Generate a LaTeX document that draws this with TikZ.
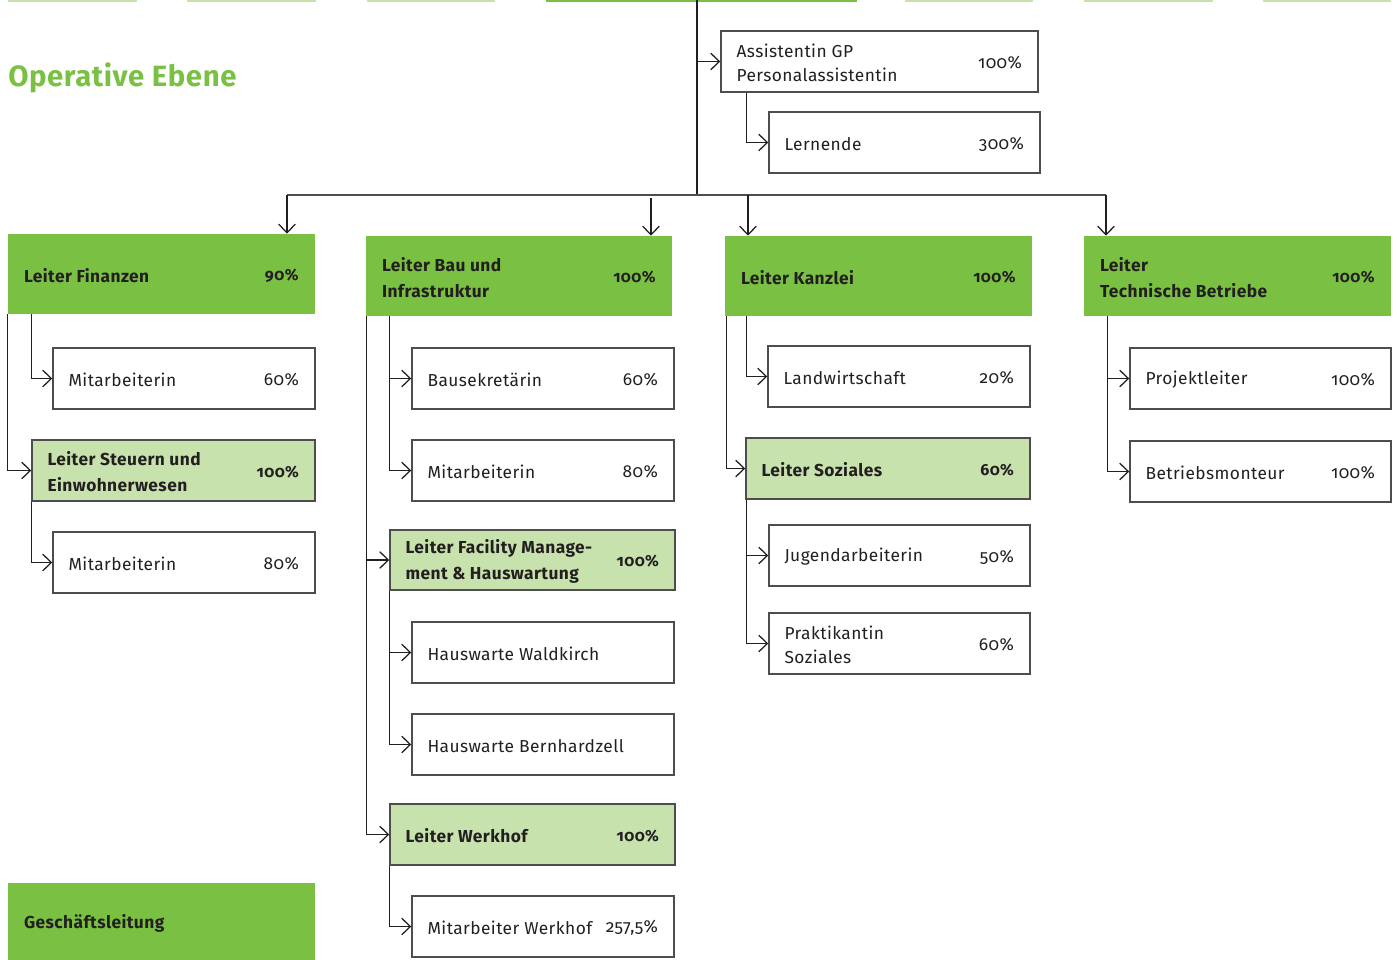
\documentclass[tikz,border=0pt]{standalone}
\usepackage{fontspec}
\setmainfont{Fira Sans}[Numbers=OldStyle, LetterSpace=2.5]
\newfontfamily\titlefam{Fira Sans}[Numbers=OldStyle, LetterSpace=2]
\usetikzlibrary{arrows.meta,calc}
\definecolor{dgreen}{HTML}{7AC143}
\definecolor{lgreen}{HTML}{C8E2AE}
\definecolor{ink}{HTML}{231F20}
\definecolor{edge}{HTML}{4D4D4D}
\newcommand\mkbox[8]{%
  \node[#2, minimum width={(#5-#3)*0.75pt}, minimum height={(#6-#4)*0.75pt}] (#1) at ({(#3+#5)/2},{(#4+#6)/2}) {};
  \node[lab] (#1t) at ($(#1.west)+(16,1.5)$) {#7};
  \node[pct] (#1p) at ($(#1.east)+(-16.5,1.5)$) {#8};
}
\newcommand\mkhead[8]{%
  \node[#2, minimum width={(#5-#3)*0.75pt}, minimum height={(#6-#4)*0.75pt}] (#1) at ({(#3+#5)/2},{(#4+#6)/2}) {};
  \node[lab, hdfont] (#1t) at ($(#1.west)+(16,1.5)$) {#7};
  \node[pct, hdpct] (#1p) at ($(#1.east)+(-16.5,1.5)$) {#8};
}
\begin{document}
\begin{tikzpicture}[x=0.75pt,y=-0.75pt,
  wbox/.style={rectangle, draw=edge, line width=1.1pt, fill=white, inner sep=0pt},
  lbox/.style={rectangle, draw=edge, line width=1.1pt, fill=lgreen, inner sep=0pt},
  dbox/.style={rectangle, draw=none, fill=dgreen, inner sep=0pt},
  lab/.style={anchor=west, align=left, inner sep=0pt, text=ink, font=\fontsize{13}{18}\selectfont},
  pct/.style={anchor=east, inner sep=0pt, text=ink, font=\fontsize{13}{18}\selectfont},
  hdfont/.style={font=\fontsize{13}{19.5}\selectfont\bfseries},
  hdpct/.style={font=\fontsize{12}{14}\selectfont\bfseries},
  conn/.style={draw=ink, line width=0.95pt},
  arr/.style={conn, -{Straight Barb[length=6.5pt,width=12.5pt,line width=0.95pt]}},
  bus/.style={draw=edge, line width=1.3pt},
  topseg/.style={line width=1.6pt}]
\useasboundingbox (0,0) rectangle (1397,960);

% top strip
\draw[topseg, lgreen] (8,1) -- (137,1);
\draw[topseg, lgreen] (187,1) -- (316,1);
\draw[topseg, lgreen] (367,1) -- (495,1);
\draw[topseg, dgreen] (546,1) -- (857,1);
\draw[topseg, lgreen] (905,1) -- (1033,1);
\draw[topseg, lgreen] (1084,1) -- (1213,1);
\draw[topseg, lgreen] (1263,1) -- (1391,1);

% title
\node[anchor=base west, inner sep=0pt, text=dgreen, font=\titlefam\fontsize{22}{24}\selectfont\bfseries] (title) at (8,86) {Operative Ebene};

% boxes
\mkbox{ass}{wbox}{721}{31}{1038}{92}{Assistentin GP\\Personalassistentin}{100\%}
\mkbox{lern}{wbox}{769}{112}{1040}{173}{Lernende}{300\%}

\mkhead{fin}{dbox}{8}{234}{315}{314}{Leiter Finanzen}{90\%}
\mkbox{mfa}{wbox}{53}{348}{315}{409}{Mitarbeiterin}{60\%}
\mkhead{steu}{lbox}{32}{440}{315}{501}{Leiter Steuern und\\Einwohnerwesen}{100\%}
\mkbox{mfb}{wbox}{53}{532}{315}{593}{Mitarbeiterin}{80\%}
\mkhead{gl}{dbox}{8}{883}{315}{960}{Geschäftsleitung}{}

\mkhead{bau}{dbox}{366}{236}{672}{316}{Leiter Bau und\\Infrastruktur}{100\%}
\mkbox{bsek}{wbox}{412}{348}{674}{409}{Bausekretärin}{60\%}
\mkbox{bmit}{wbox}{412}{440}{674}{501}{Mitarbeiterin}{80\%}
\mkhead{fac}{lbox}{390}{530}{675}{590}{Leiter Facility Manage-\\ment \& Hauswartung}{100\%}
\mkbox{hwa}{wbox}{412}{622}{674}{683}{Hauswarte Waldkirch}{}
\mkbox{hwb}{wbox}{412}{714}{674}{775}{Hauswarte Bernhardzell}{}
\mkhead{wh}{lbox}{390}{804}{675}{865}{Leiter Werkhof}{100\%}
\mkbox{mwh}{wbox}{412}{896}{674}{957}{Mitarbeiter Werkhof}{257,5\%}

\mkhead{kan}{dbox}{725}{236}{1032}{316}{Leiter Kanzlei}{100\%}
\mkbox{lw}{wbox}{768}{346}{1030}{407}{Landwirtschaft}{20\%}
\mkhead{soz}{lbox}{746}{438}{1030}{499}{Leiter Soziales}{60\%}
\mkbox{jug}{wbox}{769}{525}{1030}{586}{Jugendarbeiterin}{50\%}
\mkbox{prak}{wbox}{769}{613}{1030}{674}{Praktikantin\\Soziales}{60\%}

\mkhead{tech}{dbox}{1084}{236}{1391}{316}{Leiter\\Technische Betriebe}{100\%}
\mkbox{proj}{wbox}{1130}{348}{1391}{409}{Projektleiter}{100\%}
\mkbox{bmon}{wbox}{1130}{441}{1391}{502}{Betriebsmonteur}{100\%}

% main trunk and bus
\coordinate (top) at (697,0);
\coordinate (hub) at (697,195);
\coordinate (busL) at (287,195);
\coordinate (busR) at (1106,195);
\coordinate (bus2) at (651,198);
\coordinate (bus3) at (748,195);
\draw[conn] (top) -- (hub);
\draw[bus] (busL) -- (busR);
\draw[arr] (top |- ass.west) -- (ass.west);
\draw[arr] ($(ass.south west)+(26,0)$) |- (lern.west);

\draw[arr] (busL) -- (busL |- fin.north);
\draw[arr] (bus2) -- (bus2 |- bau.north);
\draw[arr] (bus3) -- (bus3 |- kan.north);
\draw[arr] (busR) -- (busR |- tech.north);

% column 1
\draw[arr] ($(fin.south west)+(24,0)$) |- (mfa.west);
\draw[arr] (fin.south west) |- (steu.west);
\draw[arr] (steu.south west) |- (mfb.west);

% column 2
\draw[arr] ($(bau.south west)+(24,0)$) |- (bsek.west);
\draw[arr] ($(bau.south west)+(24,0)$) |- (bmit.west);
\draw[arr] ($(bau.south west)+(1,0)$) |- (fac.west);
\draw[arr] ($(bau.south west)+(1,0)$) |- (wh.west);
\draw[arr] (fac.south west) |- (hwa.west);
\draw[arr] (fac.south west) |- (hwb.west);
\draw[arr] (wh.south west) |- (mwh.west);

% column 3
\draw[arr] ($(kan.south west)+(22,0)$) |- (lw.west);
\draw[arr] ($(kan.south west)+(2,0)$) |- (soz.west);
\draw[arr] ($(soz.south west)+(1,0)$) |- (jug.west);
\draw[arr] ($(soz.south west)+(1,0)$) |- (prak.west);

% column 4
\draw[arr] ($(tech.south west)+(24,0)$) |- (proj.west);
\draw[arr] ($(tech.south west)+(24,0)$) |- (bmon.west);
\end{tikzpicture}
\end{document}
